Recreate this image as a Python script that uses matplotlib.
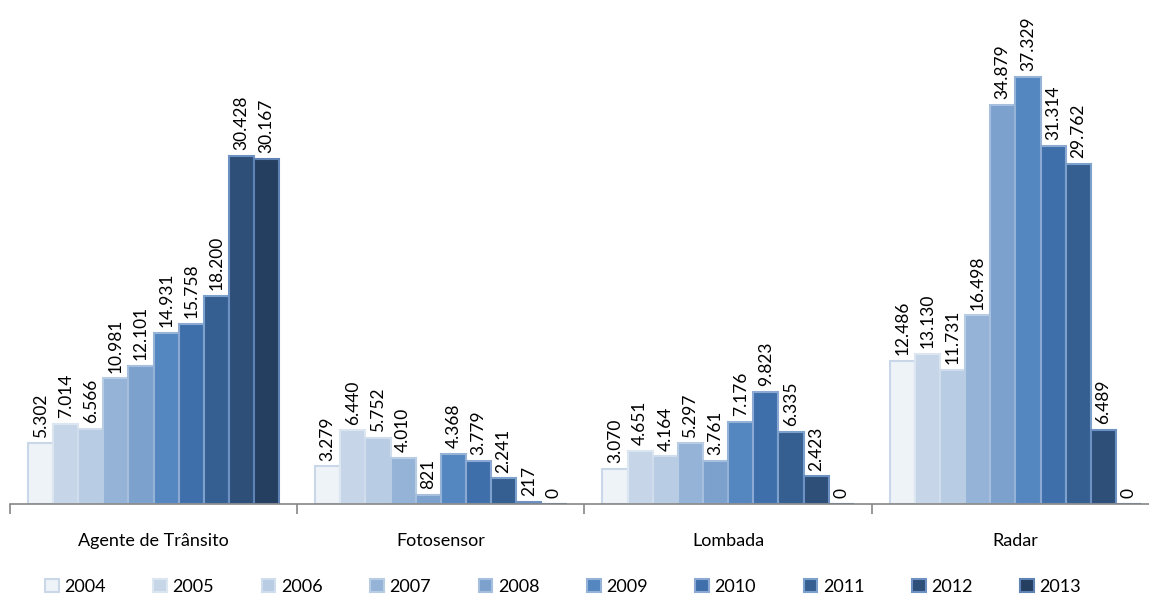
import numpy as np
import matplotlib.pyplot as plt

categories = ["Agente de Trânsito", "Fotosensor", "Lombada", "Radar"]
years = ["2004", "2005", "2006", "2007", "2008", "2009", "2010", "2011", "2012", "2013"]

# valores por ano (linhas) e categoria (colunas)
agente = [5302, 7014, 6566, 10981, 12101, 14931, 15758, 18200, 30428, 30167]
fotosensor = [3279, 6440, 5752, 4010, 821, 4368, 3779, 2241, 217, 0]
lombada = [3070, 4651, 4164, 5297, 3761, 7176, 9823, 6335, 2423, 0]
radar = [12486, 13130, 11731, 16498, 34879, 37329, 31314, 29762, 6489, 0]

colors = ["#EEF3F8", "#C6D6E8", "#B8CCE4", "#95B3D7", "#7DA1CD",
          "#5486C0", "#3F6FAA", "#365F91", "#2D4F78", "#243F60"]
edges = ["#C9D7E8", "#DCE6F1", "#D0DDEC", "#B8CCE4", "#A7BFDE",
         "#95B3D7", "#8BA9D2", "#7DA1CD", "#6D91C2", "#5F82B5"]

plt.rcParams['font.family'] = ['Lato', 'DejaVu Sans']


def fmt(v):
    return f"{v:,}".replace(",", ".")


fig = plt.figure(figsize=(11.49, 5.97), dpi=100)
ax = fig.add_axes([10 / 1149, 93 / 597, 1149 / 1149, 504 / 597])

data = np.array([agente, fotosensor, lombada, radar])
n = len(years)
group_w = 0.875
bw = group_w / n
x = np.arange(len(categories))

for i in range(n):
    pos = x - group_w / 2 + bw * (i + 0.5)
    vals = data[:, i]
    bars = ax.bar(pos, vals, width=bw, color=colors[i], edgecolor=edges[i],
                  linewidth=1.5, label=years[i], zorder=2)
    for b, v in zip(bars, vals):
        ax.text(b.get_x() + b.get_width() / 2, v + 500, fmt(v), rotation=90,
                ha='center', va='bottom', fontsize=12.5, color='black')

ax.set_xlim(-0.5, len(categories) - 0.5)
ax.set_ylim(0, 44060)
ax.set_yticks([])
for s in ['top', 'right', 'left']:
    ax.spines[s].set_visible(False)
ax.spines['bottom'].set_color('#868686')
ax.spines['bottom'].set_linewidth(1.2)
ax.set_xticks(np.arange(len(categories) + 1) - 0.5, minor=True)
ax.tick_params(axis='x', which='minor', length=7, color='#868686', width=1.2)
ax.set_xticks(x)
ax.set_xticklabels(categories, fontsize=13)
ax.tick_params(axis='x', which='major', length=0, pad=21)

fig.legend(loc='center', bbox_to_anchor=(0.49, 10 / 597), ncol=10, frameon=False,
           fontsize=13, handlelength=0.75, handleheight=0.75, handletextpad=0.3,
           columnspacing=2.65)

plt.savefig("out.png", dpi=100)
